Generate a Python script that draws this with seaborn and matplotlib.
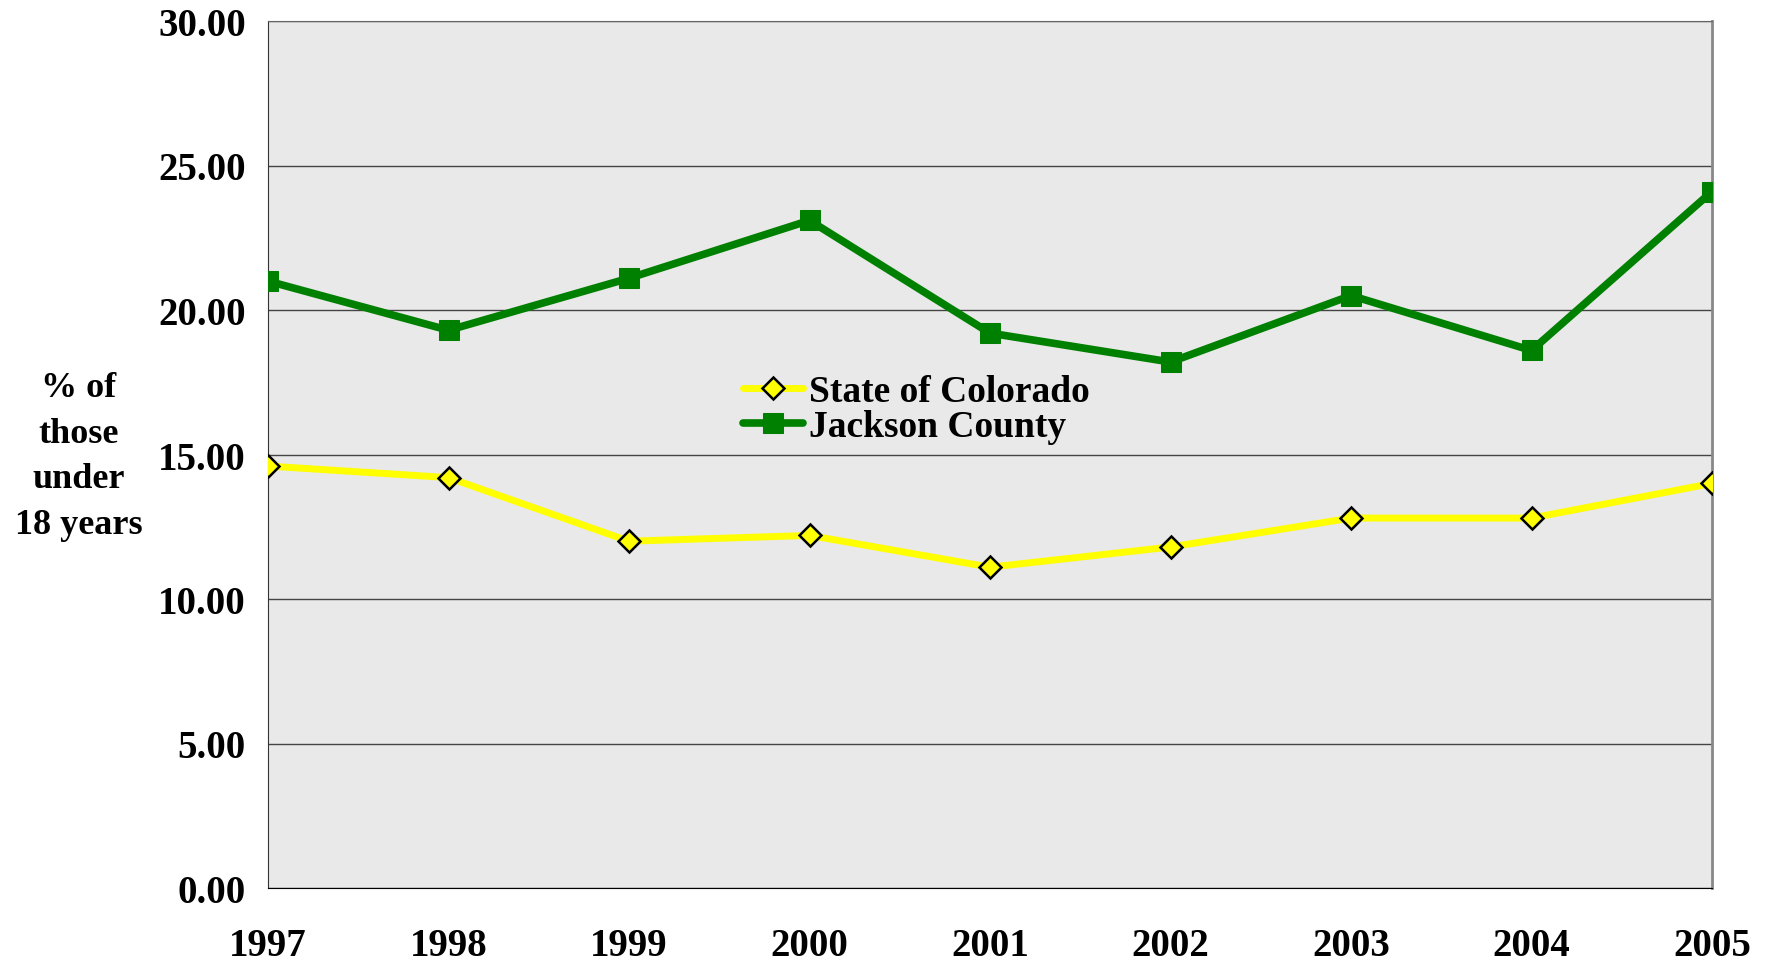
import pandas as pd
import matplotlib.pyplot as plt
import seaborn as sns

# data
years = [1997, 1998, 1999, 2000, 2001, 2002, 2003, 2004, 2005]
colorado = [14.6, 14.2, 12.0, 12.2, 11.1, 11.8, 12.8, 12.8, 14.0]
jackson = [21.0, 19.3, 21.1, 23.1, 19.2, 18.2, 20.5, 18.6, 24.1]
y_ticks = [0, 5, 10, 15, 20, 25, 30]

df = pd.DataFrame({'Year': years, 'State of Colorado': colorado, 'Jackson County': jackson})

sns.set_style('white')
plt.rcParams['font.family'] = ['Liberation Serif', 'DejaVu Serif']
plt.rcParams['font.weight'] = 'bold'

fig = plt.figure(figsize=(17.67, 9.62), dpi=100)
ax = fig.add_axes([268 / 1767, 1 - 889 / 962, (1712 - 268) / 1767, (889 - 22) / 962])
ax.set_facecolor('#e9e9e9')

sns.lineplot(data=df, x='Year', y='State of Colorado', ax=ax, color='#ffff00', linewidth=5,
             marker='D', markersize=11, markerfacecolor='#ffff00', markeredgecolor='black',
             markeredgewidth=1.8, label='State of Colorado', zorder=3)
sns.lineplot(data=df, x='Year', y='Jackson County', ax=ax, color='#008000', linewidth=5.5,
             marker='s', markersize=15, markerfacecolor='#008000', markeredgecolor='#008000',
             label='Jackson County', zorder=4)

ax.set_xlim(years[0], years[-1])
ax.set_ylim(0, 30)
ax.set_xticks(years)
ax.set_yticks(y_ticks)
ax.set_yticklabels([f'{v:.2f}' for v in y_ticks])
ax.tick_params(axis='both', labelsize=28, direction='out', length=8, width=1, color='black',
               labelcolor='black')
ax.tick_params(axis='x', pad=20)
ax.tick_params(axis='y', pad=8)
for lab in ax.get_xticklabels() + ax.get_yticklabels():
    lab.set_fontweight('bold')

ax.yaxis.grid(True, color='#444444', linewidth=1)
ax.set_axisbelow(True)
for side in ['top', 'right']:
    ax.spines[side].set_visible(True)
ax.spines['top'].set_color('#666666')
ax.spines['right'].set_color('#888888')
ax.spines['right'].set_linewidth(2)
ax.spines['left'].set_color('#333333')
ax.spines['bottom'].set_color('black')

ax.set_xlabel('')
ax.set_ylabel('')
fig.text(79 / 1767, 1 - 457 / 962, '% of\nthose\nunder\n18 years', ha='center', va='center',
         fontsize=26, fontweight='bold', linespacing=1.5, color='black')

leg = ax.legend(loc='upper left', bbox_to_anchor=((728 - 268) / 1444, (889 - 360) / 867),
                frameon=False, fontsize=27, handlelength=1.6, handletextpad=0.15,
                labelspacing=0.0, borderaxespad=0)
for t in leg.get_texts():
    t.set_fontweight('bold')
    t.set_color('black')

fig.savefig('out.png', dpi=100)
